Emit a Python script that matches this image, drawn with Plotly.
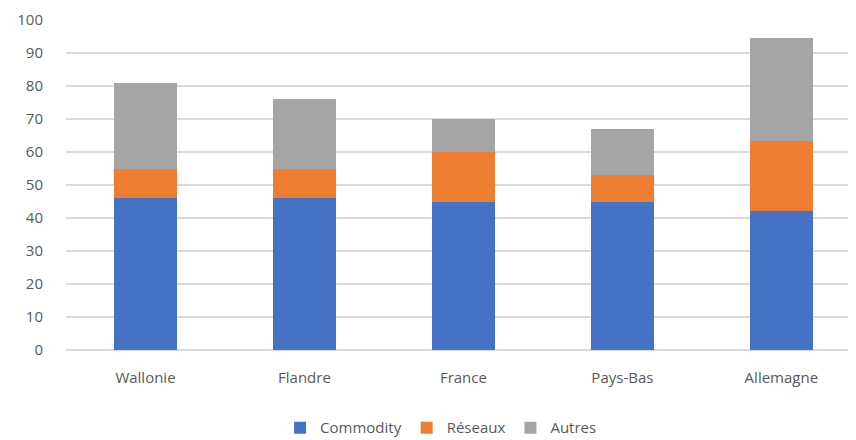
import plotly.graph_objects as go

categories = ["Wallonie", "Flandre", "France", "Pays-Bas", "Allemagne"]
commodity = [46, 46, 45, 45, 42]
reseaux = [9, 9, 15, 8, 21.4]
autres = [26, 21, 10, 14, 31]
y_ticks = [0, 10, 20, 30, 40, 50, 60, 70, 80, 90, 100]

series = [
    ("Commodity", commodity, "#4472C4"),
    ("Réseaux", reseaux, "#ED7D31"),
    ("Autres", autres, "#A5A5A5"),
]

fig = go.Figure()
for name, vals, col in series:
    fig.add_trace(go.Bar(
        x=categories, y=vals, name=name,
        marker=dict(color=col, line=dict(width=0)),
        width=0.4,
    ))

font_family = "Open Sans, Liberation Sans, sans-serif"
fig.update_layout(
    barmode="stack",
    width=856, height=440,
    margin=dict(l=58, r=0, t=12, b=98, autoexpand=False),
    plot_bgcolor="white", paper_bgcolor="white",
    font=dict(family=font_family, size=15, color="#595959"),
    showlegend=True,
    legend=dict(
        orientation="h", x=0.47, xanchor="center", y=-0.236, yanchor="middle",
        font=dict(size=15, color="#595959"),
        traceorder="normal", itemwidth=30, tracegroupgap=0,
    ),
    xaxis=dict(
        range=[-0.5, 4.52],
        showgrid=False, showline=False, zeroline=False,
        ticks="", tickfont=dict(size=15, color="#595959"),
        ticklabelstandoff=17,
    ),
    yaxis=dict(
        range=[0, 100], tickvals=y_ticks,
        showgrid=True, gridcolor="#D9D9D9", gridwidth=1.5,
        zeroline=True, zerolinecolor="#D9D9D9", zerolinewidth=1.5,
        showline=False, ticks="",
        tickfont=dict(size=15, color="#595959"),
        ticklabelstandoff=22,
    ),
)

fig.write_html("out.html")
